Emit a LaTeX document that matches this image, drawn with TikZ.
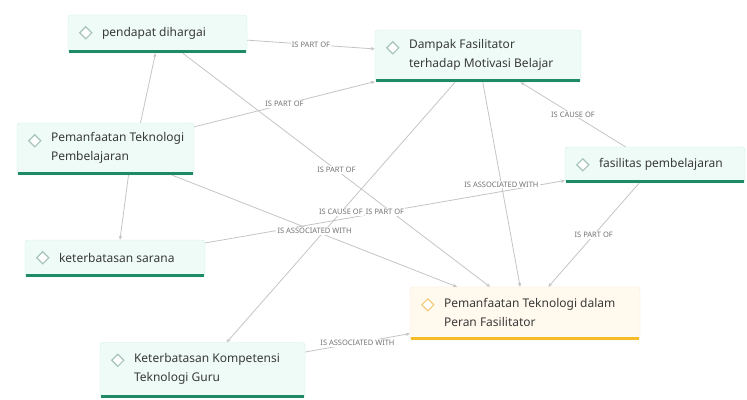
\documentclass[tikz,border=0pt]{standalone}
\usepackage{fontspec}
\setmainfont{Noto Sans}
\usetikzlibrary{arrows.meta}

\definecolor{mintfill}{HTML}{EEFBF6}
\definecolor{mintline}{HTML}{CDEEE2}
\definecolor{mintdark}{HTML}{1E8A66}
\definecolor{mintmark}{HTML}{A6C4BA}
\definecolor{amberfill}{HTML}{FFF9EE}
\definecolor{amberline}{HTML}{FAEBD0}
\definecolor{amberdark}{HTML}{F5BC28}
\definecolor{ambermark}{HTML}{F3CB7A}
\definecolor{linkgray}{HTML}{C4C4C4}
\definecolor{inkgray}{HTML}{3A3A3A}

\tikzset{
  mintbox/.style={draw=mintline, fill=mintfill, rounded corners=3pt},
  amberbox/.style={draw=amberline, fill=amberfill, rounded corners=3pt},
  minticon/.style={draw=mintmark, fill=white, line width=1.2pt, rotate=45, minimum size=8.5pt, inner sep=0pt},
  ambericon/.style={minticon, draw=ambermark},
  mintbar/.style={draw=mintdark, line width=3pt},
  amberbar/.style={draw=amberdark, line width=3pt},
  topictext/.style={inner sep=0pt, align=left, text=inkgray,
    font=\fontsize{12}{19}\selectfont},
  link/.style={draw=linkgray, line width=0.8pt, -{Stealth[length=4pt,width=3.5pt]}},
  linklabel/.style={fill=white, inner sep=1.2pt, text=black!55,
    font=\fontsize{7.5}{8}\selectfont}
}

% name, centre, width, height, kind, text
\newcommand{\topic}[6]{%
  \node[#5box, minimum width=#3, minimum height=#4] (#1) at (#2) {};
  \draw[#5bar] ([xshift=1pt,yshift=1.5pt]#1.south west) -- ([xshift=-1pt,yshift=1.5pt]#1.south east);
  \node[#5icon] at ([xshift=18pt,yshift=-18pt]#1.north west) {};
  \node[topictext, anchor=west] at ([xshift=34pt,yshift=1pt]#1.west) {#6};
}

\begin{document}
\begin{tikzpicture}[x=1pt, y=-1pt]
\useasboundingbox (0,0) rectangle (747,399);

\topic{pendapat}{157.5,34}{179pt}{38pt}{mint}{pendapat dihargai}
\topic{dampak}{478,56}{206pt}{52pt}{mint}{Dampak Fasilitator\\terhadap Motivasi Belajar}
\topic{tekpem}{105.5,149}{177pt}{52pt}{mint}{Pemanfaatan Teknologi\\Pembelajaran}
\topic{fasilitas}{655,165}{180pt}{36pt}{mint}{fasilitas pembelajaran}
\topic{sarana}{115,258.5}{180pt}{37pt}{mint}{keterbatasan sarana}
\topic{peran}{525,313.5}{230pt}{53pt}{amber}{Pemanfaatan Teknologi dalam\\Peran Fasilitator}
\topic{kompetensi}{202.5,370}{205pt}{55pt}{mint}{Keterbatasan Kompetensi\\Teknologi Guru}

% connectors
\draw[link] ([xshift=35pt]tekpem.north) -- ([xshift=-2pt]pendapat.south);
\draw[link] ([xshift=23pt]tekpem.south) -- ([xshift=5pt]sarana.north);
\foreach \s/\t in {pendapat/dampak, tekpem/dampak, pendapat/peran, fasilitas/dampak,
  fasilitas/peran, dampak/peran, sarana/fasilitas, dampak/kompetensi, tekpem/peran,
  kompetensi/peran}
  \draw[link] (\s) -- (\t);

% labels on top of every line
\foreach \s/\t/\r in {pendapat/dampak/IS PART OF, tekpem/dampak/IS PART OF,
  pendapat/peran/IS PART OF, fasilitas/dampak/IS CAUSE OF, fasilitas/peran/IS PART OF,
  dampak/peran/IS ASSOCIATED WITH, sarana/fasilitas/IS PART OF,
  dampak/kompetensi/IS CAUSE OF, tekpem/peran/IS ASSOCIATED WITH,
  kompetensi/peran/IS ASSOCIATED WITH}
  \path (\s) -- node[linklabel] {\r} (\t);
\end{tikzpicture}
\end{document}
